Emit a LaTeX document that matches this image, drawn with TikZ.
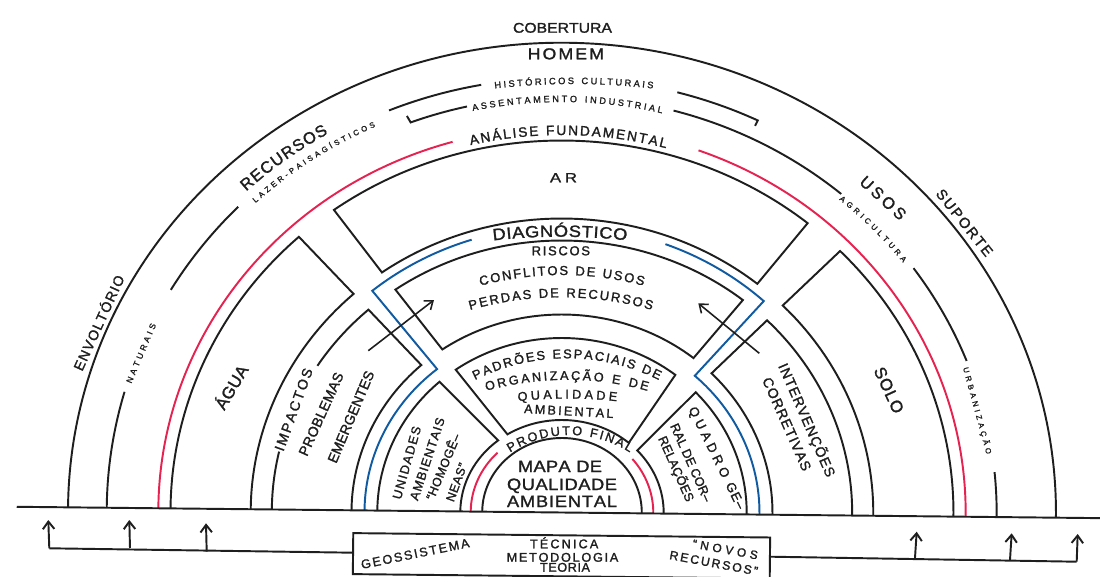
\documentclass[tikz,border=0pt]{standalone}
\usepackage{fontspec}
\setmainfont{Liberation Sans}[FakeBold=1.5]
\newfontfamily\widef{Liberation Sans}[FakeBold=1.5,FakeStretch=1.12]
\newfontfamily\widerf{Liberation Sans}[FakeBold=1.5,FakeStretch=1.25]
\usetikzlibrary{decorations.text,arrows.meta}
\definecolor{rd}{RGB}{230,35,80}
\definecolor{bl}{RGB}{15,90,160}
\definecolor{ink}{RGB}{30,30,30}
\newlength\pxu \setlength\pxu{0.02cm}
% letter spreading: first token, then \hfill before each next token
\def\sprA#1{#1\sprB}
\def\sprB#1{\ifx#1\relax\else\hfill#1\expandafter\sprB\fi}
% ring segment with start point: t1 t2 a b (pixel units)
\newcommand\seg[4]{(#1:#3 and #4) arc[start angle=#1,end angle=#2,x radius=#3*0.02cm,y radius=#4*0.02cm]}
\newcommand\arcc[4]{arc[start angle=#1,end angle=#2,x radius=#3*0.02cm,y radius=#4*0.02cm]}
% text along elliptic arc: [family] size a b t1 t2 text
\newcommand\etxt[7][]{\path[decorate,decoration={text along path,text={|\color{ink}#1\fontsize{#2}{#2}\selectfont|#7},text align=fit to path}] (#5:#3 and #4) arc[start angle=#5,end angle=#6,x radius=#3*0.02cm,y radius=#4*0.02cm];}
% text along circle: [family] size cx cy r t1 t2 text
\newcommand\ctxt[8][]{\path[decorate,decoration={text along path,text={|\color{ink}#1\fontsize{#2}{#2}\selectfont|#8},text align=fit to path}] ([shift={(#3,#4)}]#6:#5) arc[start angle=#6,end angle=#7,radius=#5*0.02cm];}
% straight label as one node: [family] size start end length text
\newcommand\ntxt[6][]{\path (#3) -- (#4) node[pos=0,sloped,anchor=base west,inner sep=0pt,outer sep=0pt,font={#1\fontsize{#2}{#2}\selectfont}]{\makebox[#5\pxu][s]{\sprA#6\relax}};}
\tikzset{arr/.style={-{Straight Barb[length=1.5mm,width=2.3mm]}}}
\begin{document}
\begin{tikzpicture}[x=0.02cm,y=0.02cm,line width=1.1pt,color=ink]
\fill[white] (-562,-63.5) rectangle (538,512.5);
\useasboundingbox (-562,-63.5) rectangle (538,512.5);
\begin{scope}[rotate=-0.6]
% outer envelope
\draw \seg{180}{0}{494}{469.8};
% second ring (left + top)
\draw \seg{180}{164.5}{455.3}{434.5};
\draw \seg{149.8}{135.9}{455.3}{434.5};
\draw \seg{112.9}{100.8}{455.3}{434.5};
\draw \seg{75.9}{65.1}{455.3}{434.5} -- (65.1:449 and 428.5);
% third ring (top + right)
\draw (111.1:442.3 and 423.3) -- (110.95:434.7 and 416) \arcc{110.95}{103.2}{434.7}{416};
\draw \seg{75.7}{50.6}{434.7}{416};
\draw \seg{36.6}{22}{434.7}{416};
\draw \seg{6.2}{0}{434.7}{416};
% red ring
\draw[rd] \seg{180}{106.3}{403.7}{385};
\draw[rd] \seg{70.8}{0}{403.7}{385};
% AGUA / AR / SOLO
\draw \seg{180}{132.8}{391.5}{372} -- (132.6:311.3 and 294) \arcc{132.6}{180}{311.3}{294};
\draw \seg{126.2}{51.7}{391.5}{372} -- (51.7:311.3 and 294) \arcc{51.7}{125.9}{311.3}{294} -- cycle;
\draw (0:391.5 and 372) \arcc{0}{45.3}{391.5}{372} -- (45.4:311.3 and 294) \arcc{45.4}{0}{311.3}{294};
% IMPACTOS / RISCOS / INTERVENCOES
\draw \seg{180}{167.7}{290.2}{272};
\draw \seg{148}{132.4}{290.2}{272} -- (132.5:210.5 and 198) \arcc{132.5}{180}{210.5}{198};
\draw \seg{125.6}{52}{290.2}{272} -- (51.9:210.5 and 198) \arcc{51.9}{125.2}{210.5}{198} -- cycle;
\draw (0:290.2 and 272) \arcc{0}{45.6}{290.2}{272} -- (45.3:210.5 and 198) \arcc{45.3}{0}{210.5}{198};
% blue line
\draw[bl] \seg{180}{129.8}{197.5}{185} -- (129.8:300 and 286) \arcc{129.8}{108.1}{300}{286};
\draw[bl] \seg{70.4}{48.3}{300}{286} -- (48.3:197.5 and 185) \arcc{48.3}{0}{197.5}{185};
% UNIDADES / PADROES / QUADRO
\draw \seg{180}{132.1}{184.7}{174.5} -- (129.4:101.7 and 92.5) \arcc{129.4}{180}{101.7}{92.5};
\draw \seg{125.7}{52.7}{184.7}{174.5} -- (49.5:101.7 and 92.5) \arcc{49.5}{123}{101.7}{92.5} -- cycle;
\draw (0:184.7 and 174.5) \arcc{0}{44.2}{184.7}{174.5} -- (42.8:101.7 and 92.5) \arcc{42.8}{0}{101.7}{92.5};
% inner red + map
\draw[rd] \seg{180}{135.5}{91.3}{84.3};
\draw[rd] \seg{40.1}{0}{91.3}{84.3};
\draw \seg{180}{0}{79.8}{74.5};
% ground line
\draw (-545.3,0) -- (545,0);
\end{scope}

% inner arrows
\coordinate (la0) at (-193.7,161.8); \coordinate (la1) at (-128,212.5);
\coordinate (ra0) at (197.3,159.2);  \coordinate (ra1) at (136.3,209.2);
\draw[arr,line width=0.9pt] (la0) -- (la1);
\draw[arr,line width=0.9pt] (ra0) -- (ra1);

% bottom box and brackets
\node[draw,rotate=-0.6,minimum width=8.34cm,minimum height=0.82cm,inner sep=0pt] (box) at (-0.5,-43.3) {};
\coordinate (L0) at (-208.7,-40.2); \coordinate (L1) at (-512.7,-35.8);
\coordinate (L1t) at (-513.7,-7.5);
\coordinate (L2) at (-432,-35.5); \coordinate (L2t) at (-432.7,-7.5);
\coordinate (L3) at (-355.3,-39.2); \coordinate (L3t) at (-356,-10.8);
\coordinate (R0) at (208,-44.2); \coordinate (R1) at (514.7,-49.2);
\coordinate (R1t) at (515.7,-21.5);
\coordinate (R2) at (353,-45.5); \coordinate (R2t) at (354.7,-19.2);
\coordinate (R3) at (448,-47.5); \coordinate (R3t) at (449.7,-20.8);
\draw (L0) -- (L1);
\draw[arr] (L1) -- (L1t);
\draw[arr] (L2) -- (L2t);
\draw[arr] (L3) -- (L3t);
\draw (R0) -- (R1);
\draw[arr] (R1) -- (R1t);
\draw[arr] (R2) -- (R2t);
\draw[arr] (R3) -- (R3t);

% ---- curved texts ----
\ctxt{5.3}{12}{-271.5}{700}{96.5}{83.5}{HISTÓRICOS CULTURAIS}
\etxt{5.2}{429}{410.5}{102}{76.5}{ASSENTAMENTO INDUSTRIAL}
\etxt{7.8}{397.3}{377.5}{103.3}{74.8}{ANÁLISE FUNDAMENTAL}
\ctxt[\widef]{9.3}{-2}{-324.2}{600}{96.4}{83.6}{DIAGNÓSTICO}
\ctxt{7.4}{0}{-75.5}{313}{105.1}{74.9}{CONFLITOS DE USOS}
\ctxt{7.4}{-1}{-116.8}{332}{105.9}{74.1}{PERDAS DE RECURSOS}
\ctxt{7.3}{5}{-51.3}{205.5}{116.6}{63.4}{PADRÕES ESPACIAIS DE}
\ctxt{7.2}{5}{-167.3}{300}{105.6}{74.4}{ORGANIZAÇÃO E DE}
\ctxt{7.2}{5.5}{-336}{450}{96.3}{83.7}{QUALIDADE}
\ctxt{7.2}{8}{-34.1}{111.6}{122.5}{57.5}{PRODUTO FINAL}
\etxt{9.3}{463.1}{439}{133}{120.3}{RECURSOS}
\etxt{4.4}{447.8}{424.5}{133.2}{114.6}{LAZER-PAISAGÍSTICOS}
\etxt{4.4}{431}{408.5}{50}{37.7}{AGRICULTURA}

% ---- straight texts ----
\ntxt[\widef]{8}{-49,479.8}{50,479.8}{99}{COBERTURA}
\ntxt[\widef]{9}{-34.3,453.2}{42,453.2}{76.3}{HOMEM}
\ntxt[\widerf]{7.6}{-12,330.2}{15,330.2}{27}{AR}
\ntxt{7.4}{-30.3,257.2}{28,257.2}{58.3}{RISCOS}
\ntxt{7.2}{-38,99.5}{51.3,94.5}{89.4}{AMBIENTAL}
\ntxt[\widef]{9.3}{-44,40.5}{40,40.5}{84}{MAPA\ DE}
\ntxt[\widef]{9.3}{-55,22.5}{55,22.5}{110}{QUALIDADE}
\ntxt[\widef]{9.3}{-55,5.5}{55,5.5}{110}{AMBIENTAL}
\ntxt{8}{-479.8,140.7}{-437.1,234.4}{103}{ENVOLTÓRIO}
\ntxt{4.8}{-430.6,128.7}{-405.8,187.6}{63.9}{NATURAIS}
\ntxt{9.3}{296.6,329.3}{337.9,291.4}{56.1}{USOS}
\ntxt{8.3}{373.2,318.5}{423.9,255}{81.3}{SUPORTE}
\ntxt{4.4}{401,144.4}{424.5,58}{89.5}{URBANIZAÇÃO}
\ntxt{9.5}{-337.6,101.5}{-313,142.9}{48.2}{ÁGUA}
\ntxt{9.5}{311.4,142.2}{332.1,97.7}{49.1}{SOLO}
\ntxt{8}{-278.6,60.5}{-249,142.1}{86.8}{IMPACTOS}
\ntxt{8}{-254.9,55.5}{-218,137.4}{89.8}{PROBLEMAS}
\ntxt{8}{-225.8,48.5}{-188,137.6}{96.8}{EMERGENTES}
\ntxt{8}{216,146.5}{264.8,34.5}{122.2}{INTERVENÇÕES}
\ntxt{8}{200,132.5}{240.8,40.5}{100.6}{CORRETIVAS}
\ntxt{7.2}{-161.2,12.5}{-140.8,84.8}{75.1}{UNIDADES}
\ntxt{7.2}{-144.2,11.3}{-117,93.2}{86.3}{AMBIENTAIS}
\ntxt{7}{-128.3,11.5}{-101.3,76.5}{70.4}{“HOMOGÊ–}
\ntxt{7}{-108.3,10}{-94.6,47.6}{40}{NEAS”}
\ntxt{7.4}{126.3,103.1}{160.4,33.7}{77.3}{QUADRO}
\ntxt{7.4}{163.4,27.6}{175.7,2.5}{28}{GE–}
\ntxt{7.2}{108,86.6}{142.2,9.8}{84.1}{RAL\ DE\ COR–}
\ntxt{7.2}{96,73.9}{124.5,9.9}{70.1}{RELAÇÕES}
\ntxt{7.2}{-32,-35.8}{36.3,-35.8}{68.3}{TÉCNICA}
\ntxt{7.2}{-55.3,-49.2}{56.3,-49.2}{111.6}{METODOLOGIA}
\ntxt{7.2}{-22,-59.2}{28,-59.2}{50}{TEORIA}
\ntxt{7.2}{-200,-56.5}{-92,-34.5}{110.2}{GEOSSISTEMA}
\ntxt{6.8}{130,-35}{195,-47}{66.1}{“NOVOS}
\ntxt{7}{107,-46.5}{195,-63}{89.5}{RECURSOS”}
\end{tikzpicture}
\end{document}
